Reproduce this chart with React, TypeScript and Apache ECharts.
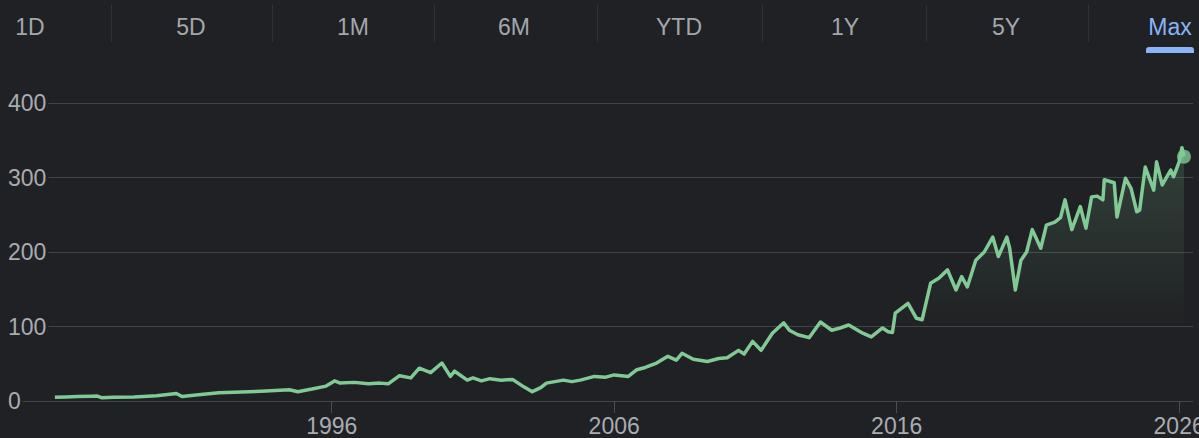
import React, { useEffect, useRef } from "react";
import * as echarts from "echarts";

const tabLabels = ["1D", "5D", "1M", "6M", "YTD", "1Y", "5Y", "Max"];
const selectedTab = "Max";
const yTicks = [0, 100, 200, 300, 400];
const xTickYears = [1996, 2006, 2016, 2026];

const years = [
  1986.2, 1986.6, 1987.0, 1987.5, 1987.7, 1987.85, 1988.3, 1989.0, 1989.8, 1990.5,
  1990.7, 1991.2, 1992.0, 1992.8, 1993.5, 1994.0, 1994.5, 1994.8, 1995.3, 1995.8,
  1996.1, 1996.3, 1996.8, 1997.3, 1997.7, 1998.0, 1998.4, 1998.8, 1999.1, 1999.5,
  1999.9, 2000.2, 2000.35, 2000.8, 2001.0, 2001.3, 2001.6, 2002.0, 2002.4, 2002.8,
  2003.1, 2003.4, 2003.6, 2004.2, 2004.5, 2004.8, 2005.3, 2005.7, 2006.0, 2006.5,
  2006.8, 2007.1, 2007.5, 2007.9, 2008.2, 2008.4, 2008.8, 2009.3, 2009.7, 2010.0,
  2010.4, 2010.6, 2010.9, 2011.2, 2011.6, 2012.0, 2012.2, 2012.5, 2012.9, 2013.3,
  2013.7, 2014.0, 2014.3, 2014.8, 2015.1, 2015.5, 2015.7, 2015.85, 2015.95, 2016.4,
  2016.7, 2016.9, 2017.2, 2017.5, 2017.8, 2018.1, 2018.3, 2018.5, 2018.8, 2019.1,
  2019.4, 2019.6, 2019.9, 2020.0, 2020.2, 2020.4, 2020.6, 2020.8, 2021.1, 2021.3,
  2021.6, 2021.8, 2021.96, 2022.2, 2022.5, 2022.7, 2022.9, 2023.1, 2023.3, 2023.35,
  2023.7, 2023.8, 2024.1, 2024.3, 2024.5, 2024.6, 2024.8, 2025.1, 2025.2, 2025.4,
  2025.7, 2025.8, 2026.0, 2026.1, 2026.17,
];

const prices = [
  5, 5.5, 6, 6.5, 6.7, 4.5, 5, 5.5, 7, 10,
  6, 8, 11, 12, 13, 14, 15, 12.5, 16, 20,
  27, 24, 25, 23, 24, 23, 34, 31, 44, 38,
  51, 33, 40, 28, 31, 27, 30, 28, 29, 19,
  12.5, 18, 24, 28, 26, 28, 33, 32, 35, 33,
  42, 45, 51, 60, 55, 64, 56, 53, 57, 58,
  68, 63, 80, 68, 91, 105, 95, 89, 85, 106,
  95, 98, 102, 91, 86, 98, 93, 92, 118, 131,
  111, 109, 158, 165, 176, 149, 167, 153, 189, 200,
  220, 194, 220, 205, 149, 189, 200, 230, 205, 236,
  240, 246, 270, 230, 261, 232, 274, 275, 270, 297,
  293, 247, 299, 285, 254, 256, 314, 283, 321, 290,
  310, 301, 321, 340, 328,
];

const FONT = '"Liberation Sans", Arial, sans-serif';
const BG = "#202124";
const GREEN = "#81c995";
const TAB_CENTERS = [30, 191, 353, 514, 679, 845, 1006, 1170];

export default function App() {
  const ref = useRef<HTMLDivElement>(null);

  useEffect(() => {
    if (!ref.current) return;
    const chart = echarts.init(ref.current, null, { renderer: "svg" });

    const graphics: any[] = [];
    tabLabels.forEach((t, i) => {
      const sel = t === selectedTab;
      graphics.push({
        type: "text",
        x: TAB_CENTERS[i],
        y: 27,
        style: {
          text: t,
          fill: sel ? "#8ab4f8" : "#a3a7ab",
          font: `23px ${FONT}`,
          align: "center",
          verticalAlign: "middle",
        },
      });
      if (i < tabLabels.length - 1) {
        const sx = Math.round((TAB_CENTERS[i] + TAB_CENTERS[i + 1]) / 2) + 0.5;
        graphics.push({
          type: "line",
          shape: { x1: sx, y1: 5, x2: sx, y2: 42 },
          style: { stroke: "#2f3135", lineWidth: 1 },
        });
      }
      if (sel) {
        graphics.push({
          type: "rect",
          shape: { x: 1146, y: 47, width: 48, height: 6, r: [3, 3, 0, 0] },
          style: { fill: "#8ab4f8" },
        });
      }
    });

    const lineData = years.map((y, i) => [y, prices[i]]);
    const last = lineData[lineData.length - 1];

    chart.setOption({
      animation: false,
      backgroundColor: BG,
      textStyle: { fontFamily: FONT },
      grid: { left: 8, right: 6, top: 103, bottom: 37, outerBoundsMode: "none" } as any,
      xAxis: {
        type: "value",
        min: 1984.54,
        max: 2026.49,
        axisLine: { show: false },
        splitLine: { show: false },
        axisTick: {
          show: true,
          customValues: xTickYears,
          length: 12,
          lineStyle: { color: "#4a4d51", width: 1 },
        },
        axisLabel: {
          customValues: xTickYears,
          color: "#a8acb0",
          fontSize: 23,
          fontFamily: FONT,
          margin: 13,
          formatter: (v: number) => String(Math.round(v)),
        },
      } as any,
      yAxis: {
        type: "value",
        min: yTicks[0],
        max: yTicks[yTicks.length - 1],
        interval: 100,
        axisLine: { show: false },
        axisTick: { show: false },
        splitLine: { lineStyle: { color: "#414447", width: 1 } },
        axisLabel: {
          inside: true,
          margin: 0,
          color: "#a8acb0",
          fontSize: 23,
          fontFamily: FONT,
          backgroundColor: BG,
          padding: [0, 2, 0, 0],
        },
      },
      graphic: graphics,
      series: [
        {
          type: "line",
          data: lineData,
          showSymbol: false,
          lineStyle: { color: GREEN, width: 3.5, join: "round" },
          areaStyle: {
            color: new echarts.graphic.LinearGradient(
              0, 140, 0, 330,
              [
                { offset: 0, color: "rgba(129,201,149,0.28)" },
                { offset: 1, color: "rgba(129,201,149,0)" },
              ],
              true
            ),
          },
          z: 3,
        },
        {
          type: "scatter",
          data: [last],
          symbolSize: 14,
          itemStyle: { color: GREEN },
          z: 4,
        },
      ],
    });

    return () => chart.dispose();
  }, []);

  return (
    <div
      ref={ref}
      style={{ position: "fixed", left: 0, top: 0, width: 1199, height: 438, background: BG }}
    />
  );
}
